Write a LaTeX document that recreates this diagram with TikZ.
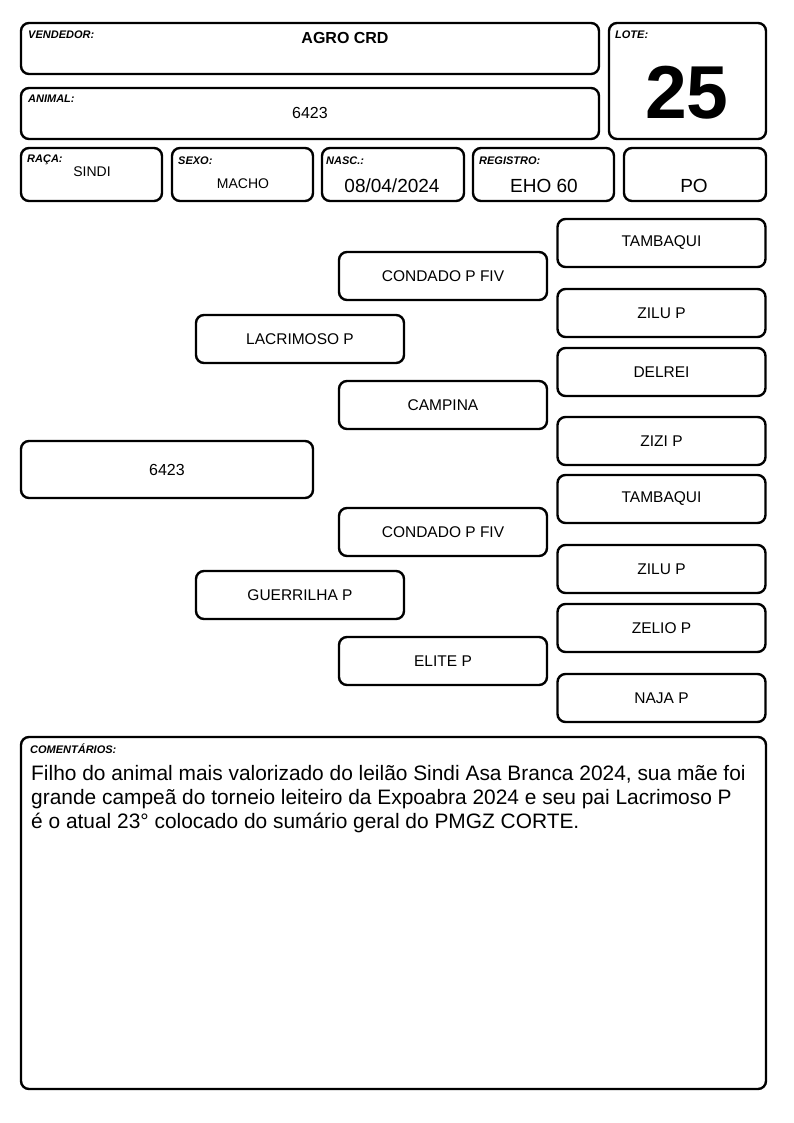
\documentclass[tikz,border=0pt]{standalone}
\usepackage{fontspec}
\setmainfont{Liberation Sans}
\begin{document}
\begin{tikzpicture}[x=1pt,y=-1pt,
  box/.style={draw=black, line width=2.4pt, rounded corners=8pt, fill=white, inner sep=0pt, anchor=center},
  ped/.style={box, minimum width=208pt, minimum height=48pt, font=\fontsize{15.5}{18}\selectfont},
  lbl/.style={anchor=north west, inner sep=0pt, font=\fontsize{11}{12}\selectfont\bfseries\itshape},
  val/.style={anchor=center, inner sep=0pt},
]
\useasboundingbox (0,0) rectangle (794,1123);
\fill[white] (0,0) rectangle (794,1123);
% header
\node[box, minimum width=578pt, minimum height=51pt] (vend) at (310,48.5) {};
\node[lbl] (vendl) at (28,31) {VENDEDOR:};
\node[val, font=\fontsize{16}{18}\selectfont\bfseries] (vendv) at (345,38) {AGRO CRD};
\node[box, minimum width=578pt, minimum height=51pt] (anim) at (310,113.5) {};
\node[lbl] (animl) at (28,95) {ANIMAL:};
\node[val, font=\fontsize{16}{18}\selectfont] (animv) at (310,113) {6423};
\node[box, minimum width=157pt, minimum height=116pt] (lote) at (687.5,81) {};
\node[lbl] (lotel) at (615,31) {LOTE:};
\node[val, font=\fontsize{75}{78}\selectfont\bfseries] (lotev) at (687,93) {25};
% row
\node[box, minimum width=141pt, minimum height=53pt] (raca) at (91.5,174.5) {};
\node[lbl] (racal) at (27,155) {RAÇA:};
\node[val, font=\fontsize{14}{16}\selectfont] (racav) at (92,172) {SINDI};
\node[box, minimum width=141pt, minimum height=53pt] (sexo) at (242.5,174.5) {};
\node[lbl] (sexol) at (178,157) {SEXO:};
\node[val, font=\fontsize{14}{16}\selectfont] (sexov) at (243,184) {MACHO};
\node[box, minimum width=142pt, minimum height=53pt] (nasc) at (393,174.5) {};
\node[lbl] (nascl) at (326,157) {NASC.:};
\node[val, font=\fontsize{19}{21}\selectfont] (nascv) at (392,186) {08/04/2024};
\node[box, minimum width=141pt, minimum height=53pt] (reg) at (543.5,174.5) {};
\node[lbl] (regl) at (479,157) {REGISTRO:};
\node[val, font=\fontsize{19}{21}\selectfont] (regv) at (544,186) {EHO 60};
\node[box, minimum width=142pt, minimum height=53pt] (po) at (695,174.5) {};
\node[val, font=\fontsize{19}{21}\selectfont] (pov) at (694,186) {PO};
% pedigree
\node[box, minimum width=292pt, minimum height=57pt, font=\fontsize{16}{18}\selectfont] (p0) at (167,469.5) {6423};
\node[ped] (p1) at (300,339) {LACRIMOSO P};
\node[ped] (p2) at (300,595) {GUERRILHA P};
\node[ped] (p11) at (443,276) {CONDADO P FIV};
\node[ped] (p12) at (443,405) {CAMPINA};
\node[ped] (p21) at (443,532) {CONDADO P FIV};
\node[ped] (p22) at (443,661) {ELITE P};
\node[ped] (p111) at (661.5,243) {TAMBAQUI};
\node[ped] (p112) at (661.5,313) {ZILU P};
\node[ped] (p121) at (661.5,372) {DELREI};
\node[ped] (p122) at (661.5,441) {ZIZI P};
\node[ped] (p211) at (661.5,499) {TAMBAQUI};
\node[ped] (p212) at (661.5,569) {ZILU P};
\node[ped] (p221) at (661.5,628) {ZELIO P};
\node[ped] (p222) at (661.5,698) {NAJA P};
% comments
\node[box, minimum width=745pt, minimum height=352pt] (com) at (393.5,913) {};
\node[lbl] (coml) at (30,744) {COMENTÁRIOS:};
\node[anchor=north west, inner sep=0pt, align=left, font=\fontsize{20.9}{24}\selectfont] (comv) at (31,765) {Filho do animal mais valorizado do leilão Sindi Asa Branca 2024, sua mãe foi\\grande campeã do torneio leiteiro da Expoabra 2024 e seu pai Lacrimoso P\\é o atual 23° colocado do sumário geral do PMGZ CORTE.};
\end{tikzpicture}
\end{document}
